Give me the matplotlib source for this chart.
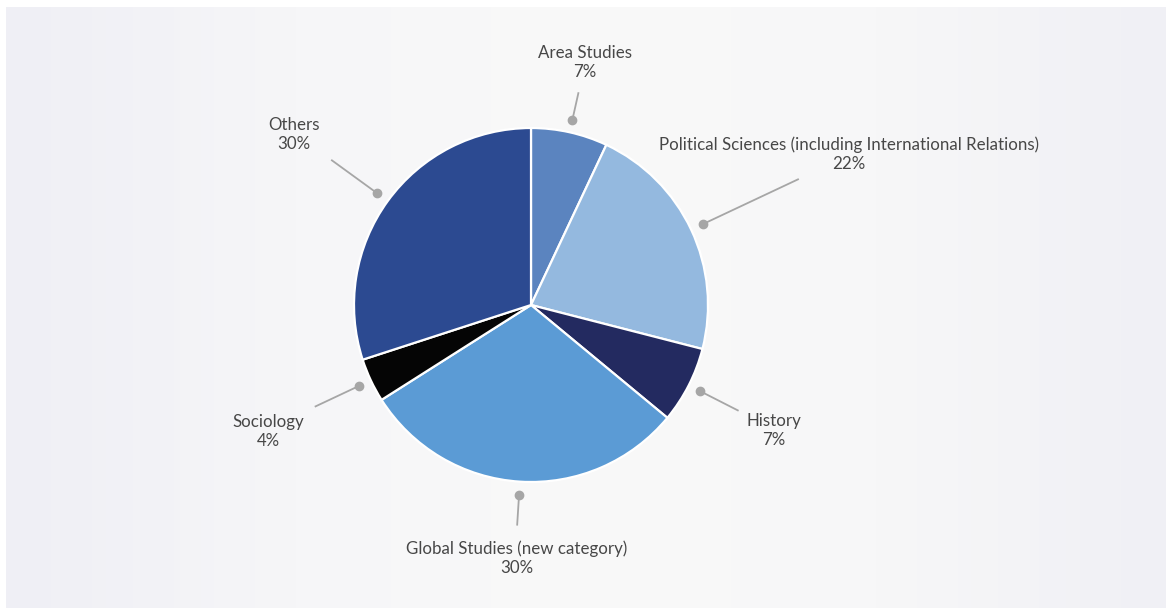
import numpy as np
import matplotlib
matplotlib.use("Agg")
import matplotlib.pyplot as plt
from matplotlib.colors import LinearSegmentedColormap

# Share of publications by discipline
categories = [
    "Area Studies",
    "Political Sciences (including International Relations)",
    "History",
    "Global Studies (new category)",
    "Sociology",
    "Others",
]
shares = [7, 22, 7, 30, 4, 30]
colors = ["#5b84bf", "#94b9df", "#232a60", "#5b9bd5", "#050505", "#2c4a91"]

# Leader-line end radius and text offset (px) from the line end, per label
line_end_r = [218, 296, 233, 221, 239, 247]
text_offset = [(6, -30), (50, -25), (35, 20), (0, 33), (-46, 25), (-37, -25)]

W, H = 1167, 608
fig = plt.figure(figsize=(W / 100, H / 100), dpi=100, facecolor="white")
ax = fig.add_axes([0, 0, 1, 1])
ax.set_xlim(0, W)
ax.set_ylim(0, H)
ax.set_aspect("equal")
ax.axis("off")

# Soft horizontal gradient panel
grad = LinearSegmentedColormap.from_list(
    "panel", ["#efeff5", "#f6f6f8", "#f9f9f9", "#f7f7f8", "#f0f0f5"])
ax.imshow(np.linspace(0, 1, 256)[None, :], cmap=grad, aspect="auto",
          extent=(6, 1166, 0, H - 7), zorder=0)

cx, cy, r = 531, H - 305, 177
wedges, _ = ax.pie(shares, colors=colors, startangle=90, counterclock=False,
                   center=(cx, cy), radius=r, frame=True,
                   wedgeprops=dict(edgecolor="white", linewidth=1.6))
ax.set_xlim(0, W)
ax.set_ylim(0, H)
ax.axis("off")
for w in wedges:
    w.set_zorder(2)

for w, name, val, rend, (dx, dy) in zip(wedges, categories, shares,
                                        line_end_r, text_offset):
    mid = np.deg2rad((w.theta1 + w.theta2) / 2)
    x0, y0 = cx + 190 * np.cos(mid), cy + 190 * np.sin(mid)
    x1, y1 = cx + rend * np.cos(mid), cy + rend * np.sin(mid)
    ax.plot([x0, x1], [y0, y1], color="#a6a6a6", lw=1.3, zorder=3,
            solid_capstyle="butt")
    ax.plot([x0], [y0], "o", color="#a6a6a6", ms=6, zorder=4)
    ax.text(x1 + dx, y1 - dy, f"{name}\n{val}%", ha="center", va="center",
            fontsize=12.2, color="#474747", family="Lato", fontweight="normal",
            linespacing=1.25, zorder=5)

fig.savefig("out.png", dpi=100, facecolor="white")
